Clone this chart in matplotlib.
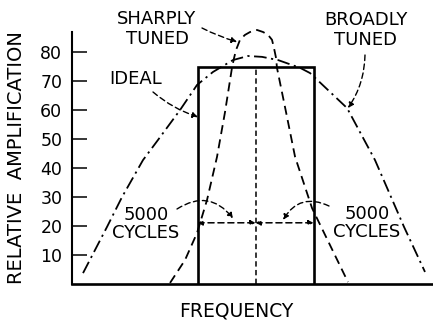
import matplotlib
matplotlib.use("Agg")
import matplotlib.pyplot as plt

plt.rcParams['font.family'] = ['DejaVu Sans']

# Frequency offset from resonance (kHz) and relative amplification
ideal_freq = [-5.0, -5.0, 5.0, 5.0]
ideal_amp = [0, 75, 75, 0]

sharp_freq = [-7.37, -6.08, -5.04, -4.18, -3.32, -2.63, -2.03, -1.85, -1.68, -1.51,
              -1.34, -0.91, -0.47, 0.13, 0.65, 1.08, 1.42, 1.59, 1.77, 1.85,
              2.63, 3.41, 4.87, 7.97]
sharp_amp = [0.2, 8.1, 17.5, 28.9, 43.8, 59.3, 74.6, 78.0, 80.8, 82.5,
             84.3, 86.0, 87.0, 87.7, 87.0, 86.0, 84.3, 81.5, 78.0, 74.6,
             59.3, 43.8, 26.1, 0.5]

broad_freq = [-14.87, -12.8, -11.51, -9.70, -8.40, -6.51, -5.04, -3.66, -1.94, -0.65,
              0.56, 1.94, 3.84, 4.70, 7.89, 10.30, 12.80, 14.61]
broad_amp = [3.6, 19.6, 29.9, 42.7, 49.7, 60.0, 68.7, 73.2, 77.3, 78.7,
             78.4, 77.3, 74.6, 72.8, 60.7, 42.7, 19.6, 4.0]

center_freq = [0, 0]
center_amp = [0, 75]

bandwidth_khz = 5.0
bandwidth_level = 21
ytick_values = [10, 20, 30, 40, 50, 60, 70, 80]

W, H = 433, 321
fig = plt.figure(figsize=(W / 100, H / 100), dpi=100)
ax = fig.add_axes([0.1663, 0.1168, 0.8337, 0.7835])
ax.set_xlim(-15.82, 15.30)
ax.set_ylim(0, 87.0)


def fpos(px, py):
    """Pixel position (from top-left) to figure fraction."""
    return (px / W, 1 - py / H)


ink = 'black'
ax.plot(ideal_freq, ideal_amp, color=ink, lw=1.9, solid_joinstyle='miter')
ax.plot(sharp_freq, sharp_amp, color=ink, lw=1.3, linestyle=(0, (5, 3)),
        clip_on=False)
ax.plot(broad_freq, broad_amp, color=ink, lw=1.3, linestyle=(0, (7, 2.5, 1.2, 2.5)))
ax.plot(center_freq, center_amp, color=ink, lw=1.1, linestyle=(0, (3.5, 2.2)))

# bandwidth arrows either side of resonance
for a, b in [(-bandwidth_khz, 0), (0, bandwidth_khz)]:
    ax.annotate('', xy=(a, bandwidth_level), xytext=(b, bandwidth_level),
                arrowprops=dict(arrowstyle='<|-|>', color=ink, lw=1.1,
                                linestyle=(0, (4, 2.5)),
                                mutation_scale=7, shrinkA=0, shrinkB=0))

ax.spines['top'].set_visible(False)
ax.spines['right'].set_visible(False)
ax.spines['left'].set_linewidth(1.5)
ax.spines['bottom'].set_linewidth(1.9)
ax.set_xticks([])
ax.set_yticks(ytick_values)
ax.set_yticklabels([str(v) for v in ytick_values])
ax.tick_params(axis='y', direction='in', length=10.5, width=1.1, pad=7,
               labelsize=12.5)

fig.text(*fpos(17, 158), 'RELATIVE  AMPLIFICATION', rotation=90,
         ha='center', va='center', fontsize=14)
fig.text(*fpos(236, 311), 'FREQUENCY', ha='center', va='center', fontsize=13.5)


def label(text, txt_px, tgt, tail_px, rad, ls=1.1):
    fig.text(*fpos(*txt_px), text, ha='center', va='center', fontsize=13,
             linespacing=ls)
    ax.annotate('', xy=tgt, xycoords='data', xytext=fpos(*tail_px),
                textcoords='figure fraction',
                arrowprops=dict(arrowstyle='-|>', color=ink, lw=1.0,
                                linestyle=(0, (4, 2.5)), mutation_scale=8,
                                shrinkA=0, shrinkB=0,
                                connectionstyle=f'arc3,rad={rad}'))


label('SHARPLY\nTUNED', (157, 29), (-1.59, 83.6), (202, 28), 0.05)
label('BROADLY\nTUNED', (366, 30), (7.97, 60.7), (365, 55), -0.15)
label('IDEAL', (136, 79), (-4.96, 57.6), (153, 92), 0.1)
label('5000\nCYCLES', (146, 224), (-1.94, 22.5), (177, 209), -0.45, ls=1.0)
label('5000\nCYCLES', (367, 223), (2.37, 22.0), (329, 206), 0.45, ls=1.0)

fig.savefig('out.png', dpi=100)
